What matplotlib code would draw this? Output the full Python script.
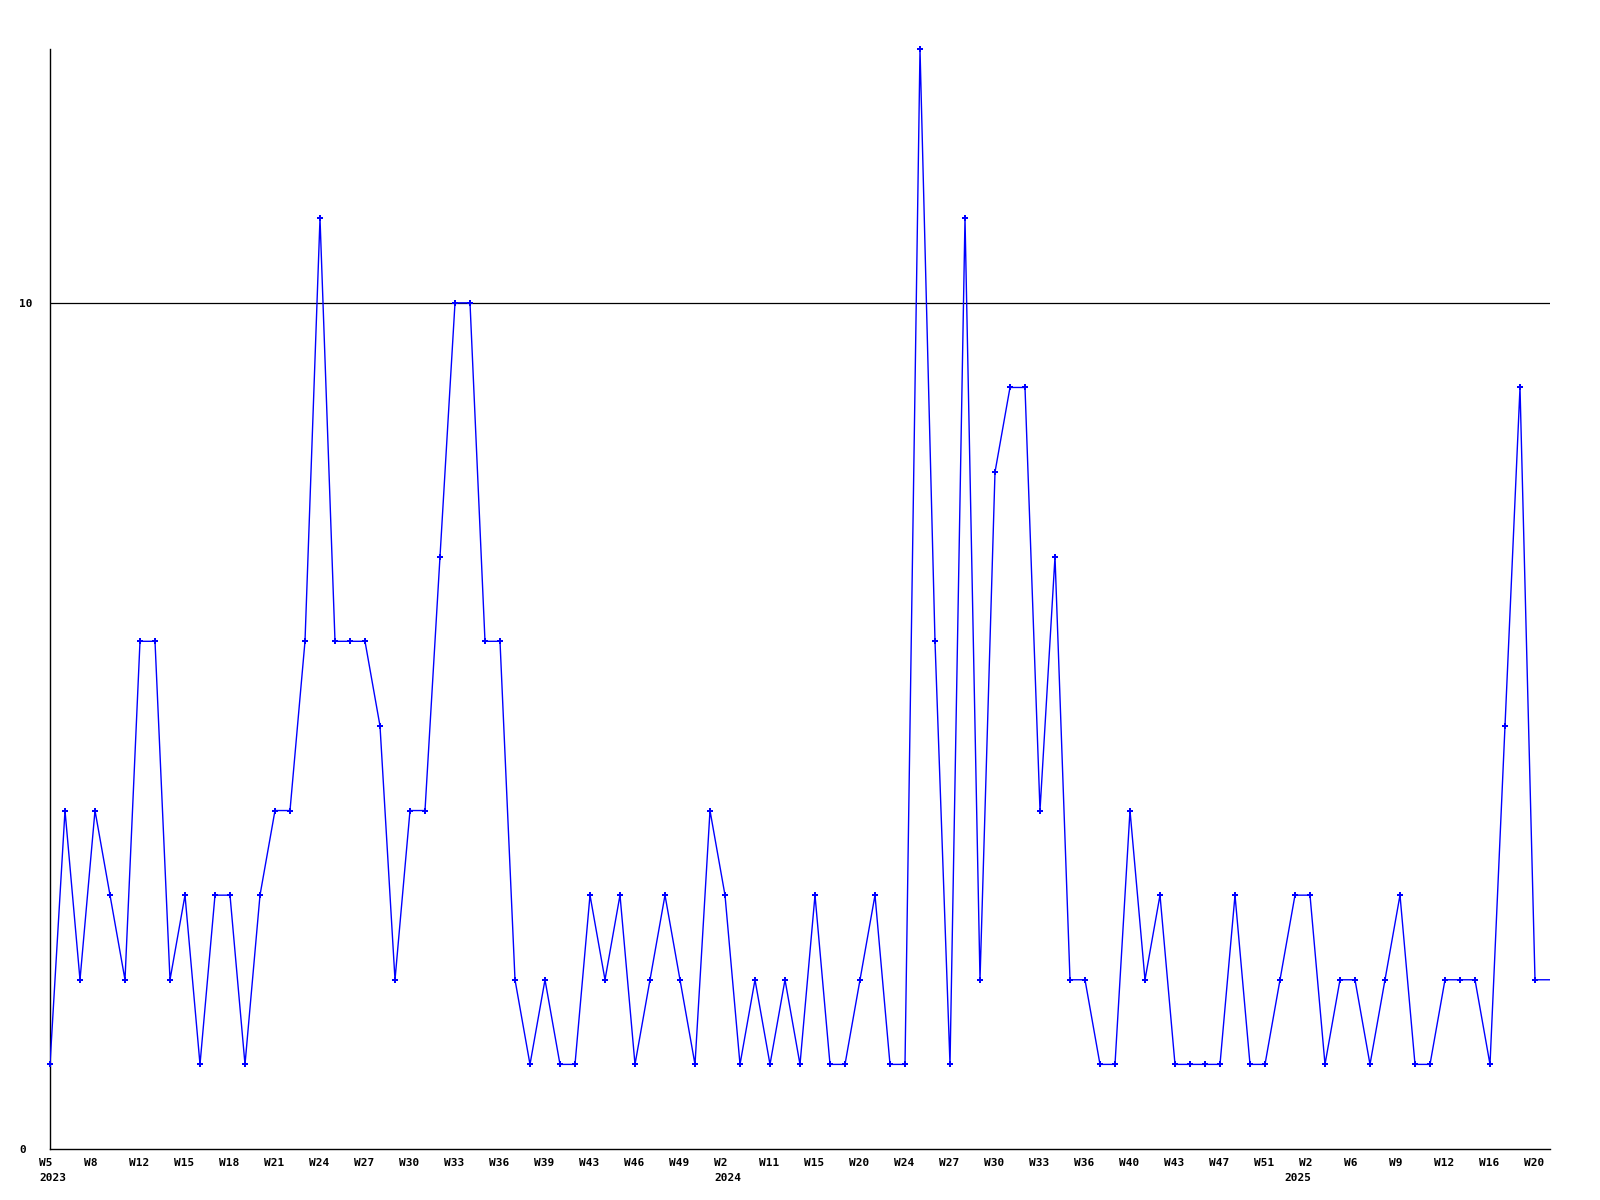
import matplotlib
matplotlib.use("Agg")
import matplotlib.pyplot as plt
from matplotlib.transforms import ScaledTranslation, blended_transform_factory

# weekly counts, one point per sample
values = [1, 4, 2, 4, 3, 2, 6, 6, 2, 3,
          1, 3, 3, 1, 3, 4, 4, 6, 11, 6,
          6, 6, 5, 2, 4, 4, 7, 10, 10, 6,
          6, 2, 1, 2, 1, 1, 3, 2, 3, 1,
          2, 3, 2, 1, 4, 3, 1, 2, 1, 2,
          1, 3, 1, 1, 2, 3, 1, 1, 13, 6,
          1, 11, 2, 8, 9, 9, 4, 7, 2, 2,
          1, 1, 4, 2, 3, 1, 1, 1, 1, 3,
          1, 1, 2, 3, 3, 1, 2, 2, 1, 2,
          3, 1, 1, 2, 2, 2, 1, 5, 9, 2]

# label on every third point
week_labels = ["W5", "W8", "W12", "W15", "W18", "W21", "W24", "W27", "W30",
               "W33", "W36", "W39", "W43", "W46", "W49", "W2", "W11", "W15",
               "W20", "W24", "W27", "W30", "W33", "W36", "W40", "W43", "W47",
               "W51", "W2", "W6", "W9", "W12", "W16", "W20"]
year_labels = {0: "2023", 15: "2024", 28: "2025"}
year_shift = {0: 0, 15: 0, 28: -15}   # px, as in the original

y_ticks = [0, 10]

FONT = dict(family="DejaVu Sans Mono", weight="bold", size=8)

fig = plt.figure(figsize=(16, 12), dpi=100)
ax = fig.add_axes([50 / 1600, 51 / 1200, 1500 / 1600, 1100 / 1200])

n = len(values)
xs = list(range(n))
# line runs on flat to the right edge, without marker
ax.plot(xs + [n], values + [values[-1]], color="#0000ff", lw=1.0, zorder=3)
ax.plot(xs, values, ls="none", marker="P", ms=4.5, color="#0000ff",
        markeredgewidth=0, zorder=4, clip_on=False)

ax.set_xlim(0, n)
ax.set_ylim(0, max(values))

ax.axhline(10, color="black", lw=0.9, zorder=1)

for s in ["top", "right"]:
    ax.spines[s].set_visible(False)
for s in ["left", "bottom"]:
    ax.spines[s].set_color("black")
    ax.spines[s].set_linewidth(1.0)

# y labels left aligned at the figure edge
ax.set_yticks(y_ticks)
ax.set_yticklabels([str(v) for v in y_ticks], ha="left", **FONT)
ax.tick_params(axis="y", length=0, pad=22)

# x labels, left aligned a little before each point
ax.set_xticks([])
trans = blended_transform_factory(ax.transData, ax.transAxes)
off = ScaledTranslation(-11 / 100, -9 / 100, fig.dpi_scale_trans)
for k, lab in enumerate(week_labels):
    ax.text(3 * k, 0, lab, transform=trans + off, ha="left", va="top", **FONT)
    if k in year_labels:
        yoff = ScaledTranslation((-11 + year_shift[k]) / 100, -24 / 100,
                                 fig.dpi_scale_trans)
        ax.text(3 * k, 0, year_labels[k], transform=trans + yoff,
                ha="left", va="top", **FONT)

fig.savefig("out.png", dpi=100, facecolor="white")
